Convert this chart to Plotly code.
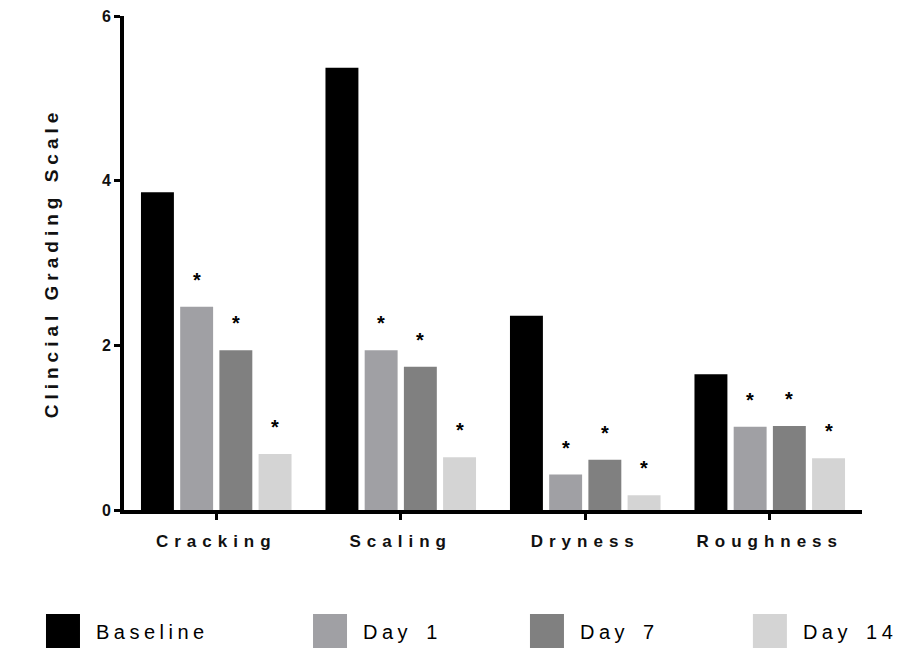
import plotly.graph_objects as go

categories = ["Cracking", "Scaling", "Dryness", "Roughness"]
series_names = ["Baseline", "Day 1", "Day 7", "Day 14"]
baseline = [3.86, 5.37, 2.36, 1.65]
day1 = [2.47, 1.94, 0.43, 1.01]
day7 = [1.94, 1.74, 0.61, 1.02]
day14 = [0.68, 0.64, 0.18, 0.63]
significant = [False, True, True, True]  # per series: marked with *
colors = ["#000000", "#a0a0a4", "#808080", "#d4d4d4"]
y_ticks = [0, 2, 4, 6]

values = [baseline, day1, day7, day14]
FONT = "Arial, Liberation Sans, sans-serif"
BARGAP = 0.15
GROUPGAP = 0.16

fig = go.Figure()
legend_ids = ["legend", "legend2", "legend3", "legend4"]
for name, vals, col, lg in zip(series_names, values, colors, legend_ids):
    fig.add_trace(go.Bar(x=categories, y=vals, name=name,
                         marker=dict(color=col, line=dict(width=0)),
                         legend=lg))

slot = (1 - BARGAP) / len(values)
annotations = []
for s, (vals, sig) in enumerate(zip(values, significant)):
    if not sig:
        continue
    for c, v in enumerate(vals):
        annotations.append(dict(
            x=c + (s - (len(values) - 1) / 2) * slot, y=v, xref="x", yref="y",
            text="*", showarrow=False, yanchor="bottom", yshift=14,
            font=dict(family=FONT, size=20, color="black", weight="bold")))

leg_common = dict(orientation="h", xanchor="left", yanchor="middle",
                  xref="container", yref="container",
                  font=dict(family=FONT, size=20, color="#000"),
                  bgcolor="rgba(0,0,0,0)", borderwidth=0)
leg_x = [0.0474, 0.3418, 0.5810, 0.8268]
legends = {}
for lg, lx in zip(legend_ids, leg_x):
    legends[lg] = dict(leg_common, x=lx, y=0.0366)

fig.update_layout(
    width=907, height=655,
    margin=dict(l=124, r=45, t=16, b=145, autoexpand=False),
    paper_bgcolor="white", plot_bgcolor="white",
    barmode="group", bargap=BARGAP, bargroupgap=GROUPGAP,
    showlegend=True,
    annotations=annotations,
    font=dict(family=FONT, color="black"),
    xaxis=dict(type="category", range=[-0.5, 3.5], showgrid=False,
               showline=True, linecolor="black", linewidth=4,
               ticks="outside", ticklen=6, tickwidth=3, tickcolor="black",
               ticklabelstandoff=7,
               tickfont=dict(family=FONT, size=17, weight="bold", color="#111"),
               zeroline=False),
    yaxis=dict(range=[0, 6], tickvals=y_ticks, showgrid=False,
               showline=True, linecolor="black", linewidth=4,
               ticks="outside", ticklen=6, tickwidth=3, tickcolor="black",
               tickfont=dict(family=FONT, size=16, weight="bold", color="#111"),
               zeroline=False,
               title=dict(text="Clincial Grading Scale", standoff=39,
                          font=dict(family=FONT, size=19, weight="bold", color="#111"))),
    **legends,
)

post = """
document.body.style.margin = '0';
var gd = document.getElementById('{plot_id}');
var NAMES = ['Baseline', 'Day 1', 'Day 7', 'Day 14'];
function setStyle(el, prop, val){ if (el.style[prop] !== val) el.style[prop] = val; }
function setAttr(el, name, val){ if (el.getAttribute(name) !== String(val)) el.setAttribute(name, val); }
function tweak(){
  gd.querySelectorAll('.xtick text').forEach(function(t){ setStyle(t, 'letterSpacing', '6px'); });
  gd.querySelectorAll('text.ytitle').forEach(function(t){ setStyle(t, 'letterSpacing', '5px'); });
  gd.querySelectorAll('g.traces').forEach(function(g){
    g.querySelectorAll('text').forEach(function(t){
      if (NAMES.indexOf(t.textContent) < 0) return;
      setStyle(t, 'letterSpacing', '4.5px'); setStyle(t, 'wordSpacing', '4px');
      setAttr(t, 'x', 53);
      t.querySelectorAll('tspan').forEach(function(s){ if (s.hasAttribute('x')) setAttr(s, 'x', 53); });
    });
    g.querySelectorAll('.legendpoints path').forEach(function(p){ setAttr(p, 'd', 'M17,17H-17V-17H17Z'); });
  });
  gd.querySelectorAll('g.scrollbox').forEach(function(el){ if (el.hasAttribute('clip-path')) el.removeAttribute('clip-path'); });
}
tweak();
gd.on('plotly_afterplot', tweak);
new MutationObserver(function(){ tweak(); }).observe(gd, {subtree: true, childList: true, attributes: true});
[0, 50, 150, 400, 1000].forEach(function(ms){ setTimeout(tweak, ms); });
"""
fig.write_html("out.html", post_script=post, config={"displayModeBar": False})
